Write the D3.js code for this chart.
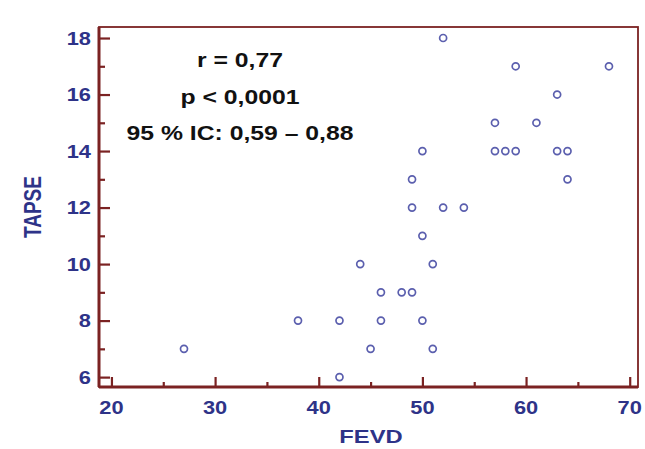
<!DOCTYPE html>
<html>
<head>
<meta charset="utf-8">
<script src="https://cdn.jsdelivr.net/npm/d3@7"></script>
<style>
  body { margin: 0; background: #fff; }
  text { font-family: "Liberation Sans", Arial, sans-serif; font-weight: bold; }
</style>
</head>
<body>
<div id="chart"></div>
<script>
//DATA
let fevd = [27, 38, 42, 42, 44, 45, 46, 46, 48, 49, 49, 49, 50, 50, 50, 51, 51,
  52, 52, 54, 57, 57, 58, 59, 59, 61, 63, 63, 64, 64, 68];
let tapse = [7, 8, 8, 6, 10, 7, 9, 8, 9, 9, 13, 12, 14, 11, 8, 10, 7,
  18, 12, 12, 15, 14, 14, 14, 17, 15, 16, 14, 14, 13, 17];
let xTicks = [20, 30, 40, 50, 60, 70];
let yTicks = [6, 8, 10, 12, 14, 16, 18];
let statLines = ["r = 0,77", "p < 0,0001", "95 % IC: 0,59 \u2013 0,88"];

//DIMENSIONS
let WIDTH = 645,
  HEIGHT = 449,
  MARGIN = { top: 27, right: 7, bottom: 62, left: 99 };
let innerW = WIDTH - MARGIN.left - MARGIN.right,
  innerH = HEIGHT - MARGIN.top - MARGIN.bottom;

let frameColor = "#7b2222",
  labelColor = "#2e3388",
  STRETCH = 1.18; // the original picture is a bit wider than tall

let svg = d3
  .select("#chart")
  .append("svg")
  .attr("width", WIDTH)
  .attr("height", HEIGHT);

let g = svg.append("g").attr("transform", `translate(${MARGIN.left}, ${MARGIN.top})`);

let xScale = d3.scaleLinear().domain([18.8, 70.8]).range([0, innerW]);
let yScale = d3.scaleLinear().domain([5.65, 18.39]).range([innerH, 0]);

//Frame (top + right thinner)
g.append("rect")
  .attr("width", innerW)
  .attr("height", innerH)
  .attr("fill", "none")
  .attr("stroke", frameColor)
  .attr("stroke-width", 1.8);

//Y-AXIS: ticks point inward
let yAxis = g.append("g")
  .call(d3.axisRight(yScale).tickValues(yTicks).tickSize(11).tickFormat(""));
let yMinor = g.append("g")
  .call(d3.axisRight(yScale).tickValues(d3.range(7, 18, 2)).tickSize(6).tickFormat(""));
[yAxis, yMinor].forEach((a) => {
  a.select(".domain").remove();
  a.selectAll("line").attr("stroke", frameColor).attr("stroke-width", 2.2);
});
g.append("g")
  .selectAll("text")
  .data(yTicks)
  .enter()
  .append("text")
  .attr("transform", (d) => `translate(-8,${yScale(d)}) scale(${STRETCH},1)`)
  .attr("dy", "0.36em")
  .attr("text-anchor", "end")
  .attr("font-size", 18.5)
  .attr("fill", labelColor)
  .text((d) => d);

//X-AXIS
let xAxis = g.append("g")
  .attr("transform", `translate(0,${innerH})`)
  .call(d3.axisTop(xScale).tickValues(xTicks).tickSize(10).tickFormat(""));
let xMinor = g.append("g")
  .attr("transform", `translate(0,${innerH})`)
  .call(d3.axisTop(xScale).tickValues(d3.range(25, 70, 10)).tickSize(5).tickFormat(""));
[xAxis, xMinor].forEach((a) => {
  a.select(".domain").remove();
  a.selectAll("line").attr("stroke", frameColor).attr("stroke-width", 2.2);
});
g.append("g")
  .selectAll("text")
  .data(xTicks)
  .enter()
  .append("text")
  .attr("transform", (d) => `translate(${xScale(d)},${innerH + 27}) scale(${STRETCH},1)`)
  .attr("text-anchor", "middle")
  .attr("font-size", 18.5)
  .attr("fill", labelColor)
  .text((d) => d);

//Thick left + bottom axis lines
g.append("line")
  .attr("x1", 0).attr("x2", 0).attr("y1", 0).attr("y2", innerH)
  .attr("stroke", frameColor).attr("stroke-width", 3);
g.append("line")
  .attr("x1", 0).attr("x2", innerW).attr("y1", innerH).attr("y2", innerH)
  .attr("stroke", frameColor).attr("stroke-width", 3);

//Axis titles
svg.append("text")
  .attr("transform", `translate(41, 207) scale(${STRETCH + 0.07},1) rotate(-90)`)
  .attr("text-anchor", "middle")
  .attr("font-size", 19)
  .attr("fill", labelColor)
  .text("TAPSE");
svg.append("text")
  .attr("transform", `translate(371, 443) scale(${STRETCH + 0.07},1)`)
  .attr("text-anchor", "middle")
  .attr("font-size", 19)
  .attr("fill", labelColor)
  .text("FEVD");

//Stats annotation
g.append("g")
  .selectAll("text")
  .data(statLines)
  .enter()
  .append("text")
  .attr("transform", (d, i) => `translate(141,${40 + i * 36.5}) scale(1.27,1)`)
  .attr("text-anchor", "middle")
  .attr("font-size", 19.5)
  .attr("fill", "#111")
  .text((d) => d);

//Draw POINTS
g.append("g")
  .selectAll("circle")
  .data(fevd.map((d, i) => ({ x: d, y: tapse[i] })))
  .enter()
  .append("circle")
  .attr("cx", (d) => xScale(d.x))
  .attr("cy", (d) => yScale(d.y))
  .attr("r", 3.5)
  .attr("fill", "none")
  .attr("stroke", "#5b5fae")
  .attr("stroke-width", 1.7);
</script>
</body>
</html>
